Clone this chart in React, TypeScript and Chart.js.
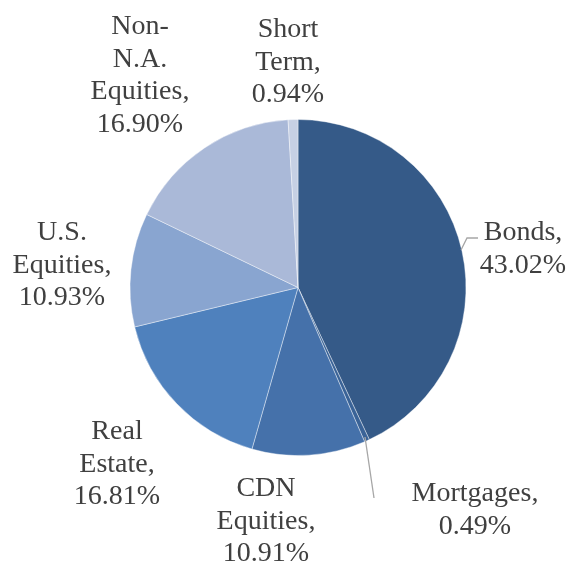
import React, { useEffect, useRef } from "react";
import { Chart, registerables } from "chart.js";

Chart.register(...registerables);

const categories = ["Bonds", "Mortgages", "CDN Equities", "Real Estate", "U.S. Equities", "Non-N.A. Equities", "Short Term"];
const labelLines = [["Bonds,"], ["Mortgages,"], ["CDN", "Equities,"], ["Real", "Estate,"], ["U.S.", "Equities,"], ["Non-", "N.A.", "Equities,"], ["Short", "Term,"]];
const values = [43.02, 0.49, 10.91, 16.81, 10.93, 16.9, 0.94];
const colors = ["#355a88", "#3a6397", "#4571aa", "#4f81bd", "#89a5d0", "#aab9d8", "#c6d0e4"];

// label anchor layout: [centerX, firstBaselineY] in canvas px, plus leader line points
const labelPos: [number, number][] = [
  [523, 240],
  [475, 501],
  [266, 496],
  [117, 439],
  [62, 240],
  [140, 34],
  [288, 37],
];
const leaders: ([number, number][] | null)[] = [
  [[461, 250], [467, 238], [478, 238]],
  [[365, 437], [374, 498]],
  null, null, null, null, null,
];

const FONT = '28px "Liberation Serif"';

const labelPlugin = {
  id: "outLabels",
  afterDraw(chart: any) {
    const ctx: CanvasRenderingContext2D = chart.ctx;
    ctx.save();
    ctx.strokeStyle = "#a6a6a6";
    ctx.lineWidth = 1.3;
    leaders.forEach((pts) => {
      if (!pts) return;
      ctx.beginPath();
      pts.forEach(([x, y], i) => (i === 0 ? ctx.moveTo(x, y) : ctx.lineTo(x, y)));
      ctx.stroke();
    });
    ctx.fillStyle = "#404040";
    ctx.font = FONT;
    ctx.textAlign = "center";
    ctx.textBaseline = "alphabetic";
    const lh = 32.5;
    values.forEach((v, i) => {
      const lines = [...labelLines[i], v.toFixed(2) + "%"];
      const [x, y] = labelPos[i];
      lines.forEach((t, j) => ctx.fillText(t, x, y + j * lh));
    });
    ctx.restore();
  },
};

export default function App() {
  const ref = useRef<HTMLCanvasElement>(null);
  useEffect(() => {
    const chart = new Chart(ref.current!, {
      type: "pie",
      data: {
        labels: categories,
        datasets: [
          {
            data: values,
            backgroundColor: colors,
            borderColor: "rgba(255,255,255,0.4)",
            borderWidth: 1,
          },
        ],
      },
      options: {
        responsive: false,
        animation: false,
        layout: { padding: { left: 129.5, right: 100.5, top: 119, bottom: 106 } },
        plugins: { legend: { display: false }, tooltip: { enabled: false } },
      },
      plugins: [labelPlugin],
    });
    return () => chart.destroy();
  }, []);
  return (
    <div style={{ position: "absolute", left: 0, top: 0, width: 567, height: 562, background: "#fff" }}>
      <canvas ref={ref} width={567} height={562} />
    </div>
  );
}
